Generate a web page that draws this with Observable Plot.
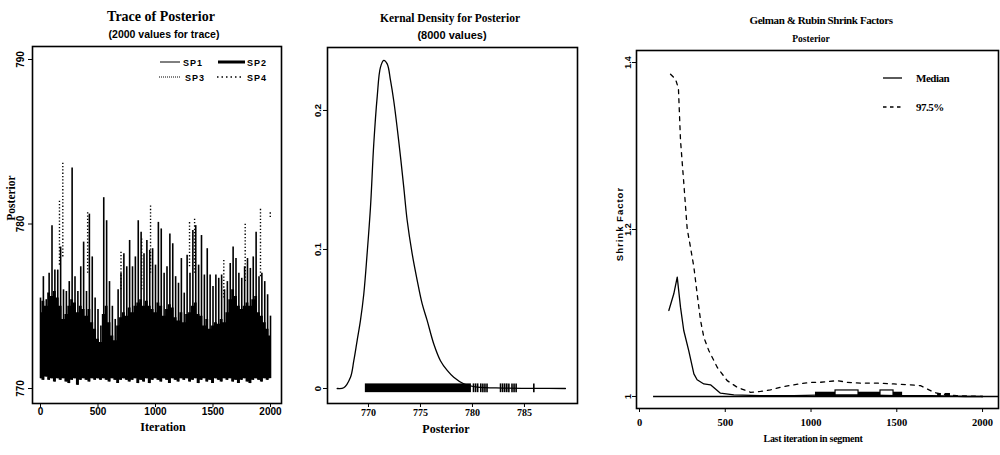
<!DOCTYPE html>
<html><head><meta charset="utf-8">
<script src="https://cdn.jsdelivr.net/npm/d3@7"></script>
<script src="https://cdn.jsdelivr.net/npm/@observablehq/plot@0.6"></script>
<style>
body{margin:0;background:#fff;}
#root{position:relative;width:1000px;height:455px;overflow:hidden;background:#fff;}
.panel{position:absolute;top:0;}
.t{position:absolute;white-space:nowrap;color:#000;line-height:1;transform:translate(-50%,-50%);}
.r{transform:translate(-50%,-50%) rotate(-90deg);}
svg{overflow:visible;}
</style></head><body><div id="root"></div>
<script>
// ---------- Panel 1: trace ----------
const traceIter = [0,25,50,75,100,125,150,175,200,225,250,275,300,325,350,375,400,425,450,475,500,525,550,575,600,625,650,675,700,725,750,775,800,825,850,875,900,925,950,975,1000,1025,1050,1075,1100,1125,1150,1175,1200,1225,1250,1275,1300,1325,1350,1375,1400,1425,1450,1475,1500,1525,1550,1575,1600,1625,1650,1675,1700,1725,1750,1775,1800,1825,1850,1875,1900,1925,1950,1975,2000];
const traceHigh = [775.5,776.8,775.4,777.0,779.9,777.2,777.2,778.6,776.0,775.9,776.5,783.4,776.8,775.9,777.4,778.9,775.9,780.6,778.0,775.5,774.8,773.8,781.6,780.2,776.5,775.0,774.2,776.0,777.0,778.2,777.4,779.0,777.4,778.0,780.2,779.5,778.2,779.0,778.4,778.5,777.5,780.1,779.7,777.0,777.4,779.4,778.8,776.8,776.4,777.9,775.8,778.1,777.0,779.6,779.9,777.5,779.3,776.9,778.5,776.9,776.2,776.9,776.7,776.9,776.0,776.5,777.6,778.6,777.9,777.0,776.7,777.4,777.9,777.3,778.0,779.5,776.8,777.0,776.5,775.7,774.4];
const traceCore = [774.6,775.3,775.0,775.8,775.6,775.9,775.5,775.0,774.2,774.5,775.0,775.4,775.2,774.6,775.0,774.8,774.4,774.8,774.0,773.6,773.0,772.8,774.5,775.0,774.0,773.2,772.9,773.8,774.3,774.6,774.4,774.9,774.6,775.0,775.2,775.4,775.0,775.3,775.0,774.8,774.6,775.2,775.0,774.4,774.8,775.1,774.9,774.3,774.1,774.6,774.0,774.5,774.6,775.0,775.2,774.5,774.4,773.8,774.2,773.6,773.8,774.0,773.9,774.2,774.0,774.6,775.4,776.0,775.6,775.0,774.8,775.0,775.2,775.0,775.4,775.6,774.6,774.4,774.0,773.6,773.2];
const traceLow = [770.6,770.5,770.7,770.5,770.6,770.4,770.6,770.5,770.6,770.4,770.3,770.5,770.6,770.2,770.5,770.6,770.5,770.4,770.6,770.5,770.6,770.5,770.6,770.5,770.4,770.6,770.5,770.3,770.5,770.6,770.5,770.4,770.5,770.6,770.3,770.5,770.4,770.6,770.3,770.5,770.6,770.5,770.4,770.6,770.5,770.3,770.6,770.5,770.4,770.6,770.5,770.6,770.4,770.5,770.6,770.3,770.5,770.6,770.4,770.5,770.3,770.6,770.5,770.4,770.6,770.5,770.6,770.4,770.5,770.3,770.5,770.6,770.4,770.3,770.5,770.6,770.5,770.4,770.6,770.5,770.6];
const dotIter = [165,194,410,700,880,957,1296,1340,1594,1780,1913,1998];
const dotLow  = [777.5,778.0,777.0,776.0,776.0,777.0,777.4,777.0,775.5,776.5,776.8,780.4];
const dotTop  = [781.4,783.7,780.7,778.3,779.2,781.2,780.2,780.3,777.9,780.1,780.9,780.7];
const traceXTicks = [0,500,1000,1500,2000];
const traceYTicks = [770,780,790];

// ---------- Panel 2: kernel density ----------
const densX = [766.99,767.62,768.27,768.59,768.91,769.23,769.55,769.87,770.19,770.51,770.84,771.15,771.47,771.8,772.12,772.43,772.91,773.39,773.72,774.2,774.68,775.16,775.64,776.28,776.92,777.57,778.2,779.16,780.45,783.0,786.2,788.94];
const densY = [0,0.0005,0.0081,0.020,0.0345,0.049,0.068,0.097,0.130,0.176,0.210,0.231,0.236,0.2335,0.2216,0.207,0.178,0.145,0.121,0.097,0.078,0.061,0.049,0.032,0.020,0.013,0.0081,0.0034,0.0010,0.0003,0.0001,0];
const rugBandFrom = [769.7], rugBandTo = [779.9];
const rugTicks = [780.1,780.3,780.5,780.8,781.0,781.2,781.4,782.7,782.9,783.1,783.3,783.5,783.8,784.0,784.2,785.9];
const densXTicks = [770,775,780,785];
const densYTicks = [0,0.1,0.2];

// ---------- Panel 3: Gelman & Rubin ----------
const medIter = [171,200,220,239,258,287,317,336,375,414,443,472,550,700,900,1100,1300,1500,1700,1900,2000];
const medVal  = [1.103,1.123,1.143,1.107,1.079,1.055,1.027,1.020,1.015,1.014,1.009,1.004,1.002,1.001,1.001,1.002,1.002,1.001,1.001,1.0,1.0];
const q975Iter = [181,210,227,239,257,278,297,317,336,356,375,404,453,511,570,647,706,764,822,900,997,1055,1153,1211,1289,1386,1483,1580,1638,1678,1716,1755,1850,2000];
const q975Val  = [1.386,1.380,1.369,1.307,1.259,1.201,1.179,1.155,1.123,1.091,1.071,1.055,1.035,1.019,1.011,1.005,1.006,1.008,1.011,1.014,1.017,1.017,1.019,1.017,1.016,1.016,1.015,1.014,1.013,1.009,1.005,1.003,1.001,1.0];
const refFrom = [82], refTo = [2093], refLevel = [1];
const overlapFrom = [1026,1738,1782], overlapTo = [1534,1760,1813], overlapLow = [0.9992,0.9988,0.9988], overlapHigh = [1.0051,1.0036,1.0036];
const hollowFrom = [1143,1405], hollowTo = [1277,1481];
const shrinkXTicks = [0,500,1000,1500,2000];
const shrinkYTicks = [1,1.2,1.4];
const shrinkYLabels = ["1","1.2","1.4"];

const root = document.getElementById("root");
function addPlot(svg, left){ const d=document.createElement("div"); d.className="panel"; d.style.left=left+"px"; d.appendChild(svg); root.appendChild(d); }
function addText(txt, x, y, css, rot){ const d=document.createElement("div"); d.className="t"+(rot?" r":""); d.textContent=txt; d.style.left=x+"px"; d.style.top=y+"px"; d.style.cssText+=css; root.appendChild(d); }

const SERIF = "'Liberation Serif', 'DejaVu Serif', serif";
const SANS = "'Liberation Sans', 'DejaVu Sans', sans-serif";

// Panel 1
const traceRows = traceIter.map((it,i)=>({it, low:traceLow[i], core:traceCore[i], high:traceHigh[i]}));
const dotRows = dotIter.map((it,i)=>({it, low:dotLow[i], top:dotTop[i]}));
const tx = [-69.6, 2095.7], ty = [769.09, 790.79];
addPlot(Plot.plot({
  width:300, height:455, marginLeft:32, marginRight:19, marginTop:46, marginBottom:52,
  x:{domain:tx}, y:{domain:ty},
  style:{background:"white", color:"black"},
  marks:[
    Plot.areaY(traceRows,{x:"it", y1:"low", y2:"core", fill:"black", curve:"step"}),
    Plot.ruleX(traceRows,{x:"it", y1:"low", y2:"high", stroke:"black", strokeWidth:1.6}),
    Plot.ruleX(dotRows,{x:"it", y1:"low", y2:"top", stroke:"black", strokeWidth:1.4, strokeDasharray:"1.3,2"}),
    Plot.frame({stroke:"black", strokeWidth:1.6}),
    Plot.axisX({ticks:traceXTicks, tickSize:4, tickFormat:()=>"", label:null}),
    Plot.axisY({ticks:traceYTicks, tickSize:4, tickFormat:()=>"", label:null}),
    Plot.text(traceXTicks,{x:d=>d, y:ty[0], dy:8, text:d=>String(d), fontFamily:SANS, fontWeight:"bold", fontSize:10}),
    Plot.text(traceYTicks,{x:tx[0], y:d=>d, dx:-12, rotate:-90, text:d=>String(d), fontFamily:SANS, fontWeight:"bold", fontSize:10})
  ]
}), 0);

// Panel 2
const densRows = densX.map((x,i)=>({x, y:densY[i]}));
const rugBand = rugBandFrom.map((a,i)=>({a, b:rugBandTo[i]}));
const dx2 = [766.06, 790.1], dy2 = [-0.0108, 0.2453];
addPlot(Plot.plot({
  width:300, height:455, marginLeft:27, marginRight:23, marginTop:47, marginBottom:52,
  x:{domain:dx2}, y:{domain:dy2},
  marks:[
    Plot.line(densRows,{x:"x", y:"y", stroke:"black", strokeWidth:1.3, curve:"catmull-rom"}),
    Plot.rect(rugBand,{x1:"a", x2:"b", y1:-0.003, y2:0.0033, fill:"black"}),
    Plot.ruleX(rugTicks,{x:d=>d, y1:-0.003, y2:0.0033, stroke:"black", strokeWidth:1.6}),
    Plot.frame({stroke:"black", strokeWidth:1.6}),
    Plot.axisX({ticks:densXTicks, tickSize:4, tickFormat:()=>"", label:null}),
    Plot.axisY({ticks:densYTicks, tickSize:4, tickFormat:()=>"", label:null}),
    Plot.text(densXTicks,{x:d=>d, y:dy2[0], dy:9, text:d=>String(d), fontFamily:SERIF, fontWeight:"bold", fontSize:10}),
    Plot.text(densYTicks,{x:dx2[0], y:d=>d, dx:-10, rotate:-90, text:d=>String(d), fontFamily:SANS, fontWeight:"bold", fontSize:9.5})
  ]
}), 300);

// Panel 3
const medRows = medIter.map((x,i)=>({x, y:medVal[i]}));
const qRows = q975Iter.map((x,i)=>({x, y:q975Val[i]}));
const refRows = refLevel.map((y,i)=>({y, a:refFrom[i], b:refTo[i]}));
const ovRows = overlapFrom.map((a,i)=>({a, b:overlapTo[i], lo:overlapLow[i], hi:overlapHigh[i]}));
const hoRows = hollowFrom.map((a,i)=>({a, b:hollowTo[i]}));
const sx = [-17.5, 2093], sy = [0.9856, 1.4144];
addPlot(Plot.plot({
  width:400, height:455, marginLeft:36, marginRight:2, marginTop:50, marginBottom:47,
  x:{domain:sx}, y:{domain:sy},
  marks:[
    Plot.ruleY(refRows,{y:"y", x1:"a", x2:"b", stroke:"black", strokeWidth:1.5}),
    Plot.rect(ovRows,{x1:"a", x2:"b", y1:"lo", y2:"hi", fill:"black"}),
    Plot.rect(hoRows,{x1:"a", x2:"b", y1:1.0004, y2:1.0072, fill:"white", stroke:"black", strokeWidth:1.2}),
    Plot.line(medRows,{x:"x", y:"y", stroke:"black", strokeWidth:1.3}),
    Plot.line(qRows,{x:"x", y:"y", stroke:"black", strokeWidth:1.3, strokeDasharray:"4,5"}),
    Plot.frame({stroke:"black", strokeWidth:1.6}),
    Plot.axisX({ticks:shrinkXTicks, tickSize:4, tickFormat:()=>"", label:null}),
    Plot.axisY({ticks:shrinkYTicks, tickSize:4, tickFormat:()=>"", label:null}),
    Plot.text(shrinkXTicks,{x:d=>d, y:sy[0], dy:14, text:d=>String(d), fontFamily:SERIF, fontWeight:"bold", fontSize:10.5}),
    Plot.text(shrinkYTicks,{x:sx[0], y:d=>d, dx:-8, rotate:-90, text:(d,i)=>shrinkYLabels[i], fontFamily:SANS, fontWeight:"bold", fontSize:9})
  ]
}), 600);

// Titles & labels
addText("Trace of Posterior", 161, 17, `font:bold 14px ${SERIF};`);
addText("(2000 values for trace)", 164, 34, `font:bold 10.5px ${SANS};`);
addText("Iteration", 163, 427, `font:bold 12px ${SERIF};`);
addText("Posterior", 11, 198, `font:bold 11.5px ${SERIF};`, true);
addText("Kernal Density for Posterior", 450, 18, `font:bold 11.5px ${SERIF};`);
addText("(8000 values)", 452, 35, `font:bold 11px ${SANS};`);
addText("Posterior", 446, 429, `font:bold 12px ${SERIF};`);
addText("Gelman & Rubin Shrink Factors", 821, 20, `font:bold 11px ${SERIF};letter-spacing:-0.4px;`);
addText("Posterior", 811, 39, `font:bold 9.5px ${SERIF};`);
addText("Shrink Factor", 619, 224, `font:bold 9.5px ${SANS};letter-spacing:1px;`, true);
addText("Last iteration in segment", 813, 438, `font:bold 10px ${SERIF};letter-spacing:-0.3px;`);

// Legends (HTML/SVG, outside chart data)
function legendSVG(left, top, w, h, inner){ const d=document.createElement("div"); d.style.cssText=`position:absolute;left:${left}px;top:${top}px;`; d.innerHTML=`<svg width="${w}" height="${h}" xmlns="http://www.w3.org/2000/svg">${inner}</svg>`; root.appendChild(d); }
const lf = `font-family:${SANS.replace(/'/g,"")};font-weight:bold;font-size:9px;letter-spacing:1px`;
legendSVG(155, 55, 120, 30,
  `<line x1="5" y1="7" x2="25" y2="7" stroke="black" stroke-width="1"/>
   <text x="28" y="10.5" style="${lf}">SP1</text>
   <line x1="63" y1="7" x2="90" y2="7" stroke="black" stroke-width="3"/>
   <text x="92" y="10.5" style="${lf}">SP2</text>
   <line x1="4" y1="22" x2="25" y2="22" stroke="black" stroke-width="1" stroke-dasharray="1,1"/>
   <text x="30" y="25.5" style="${lf}">SP3</text>
   <line x1="62" y1="22" x2="88" y2="22" stroke="black" stroke-width="1.6" stroke-dasharray="1.5,3"/>
   <text x="92" y="25.5" style="${lf}">SP4</text>`);
const lf3 = `font-family:Liberation Serif;font-weight:bold;font-size:11px;letter-spacing:-0.5px`;
legendSVG(880, 68, 90, 50,
  `<line x1="3" y1="10" x2="22" y2="10" stroke="black" stroke-width="1.3"/>
   <text x="36" y="14" style="${lf3}">Median</text>
   <line x1="3" y1="39" x2="23" y2="39" stroke="black" stroke-width="1.5" stroke-dasharray="3.5,3.5"/>
   <text x="36" y="43" style="${lf3}">97.5%</text>`);
</script></body></html>
